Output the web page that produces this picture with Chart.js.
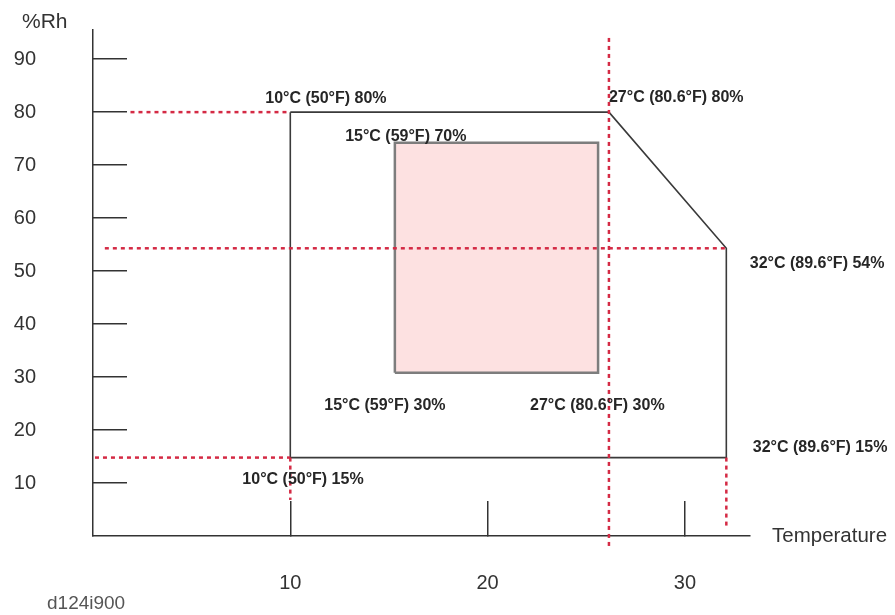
<!DOCTYPE html>
<html>
<head>
<meta charset="utf-8">
<script src="https://cdn.jsdelivr.net/npm/chart.js@4/dist/chart.umd.min.js"></script>
<style>
  body { margin: 0; background: #fff; }
  #wrap { width: 895px; height: 615px; }
</style>
</head>
<body>
<div id="wrap"><canvas id="myChart" width="895" height="615"></canvas></div>
<script>
// tick labels
const xTicks = [10, 20, 30];
const yTicks = [10, 20, 30, 40, 50, 60, 70, 80, 90];

// operating envelope, values as drawn on the axes
const envelopeTemp = [10, 26.15, 32.1, 32.1, 10, 10];
const envelopeRh = [80, 80, 54.3, 14.8, 14.8, 80];

// recommended range (pink box)
const recTemp = [15.3, 25.6, 25.6, 15.3, 15.3];
const recRh = [30.8, 30.8, 74.2, 74.2, 30.8];

// red dotted guide lines: start/end temp and rh
const guideTemp = [[1.9, 10], [0.6, 32.1], [0.1, 10], [26.15, 26.15], [10, 10], [32.1, 32.1]];
const guideRh = [[80, 80], [54.3, 54.3], [14.8, 14.8], [94, -2], [14.8, 6.8], [14.8, 1.5]];

// corner notes, anchored at temp / rh
const noteText = [
    '10°C (50°F) 80%', '27°C (80.6°F) 80%', '15°C (59°F) 70%', '32°C (89.6°F) 54%',
    '15°C (59°F) 30%', '27°C (80.6°F) 30%', '10°C (50°F) 15%', '32°C (89.6°F) 15%'
];
const noteTemp = [8.73, 26.15, 12.78, 33.29, 11.72, 22.15, 7.57, 33.44];
const noteRh = [82.6, 82.8, 75.3, 51.5, 24.7, 24.7, 10.6, 16.6];

function pts(xs, ys) {
    return xs.map(function (x, i) { return {x: x, y: ys[i]}; });
}

const datasets = [];

// pink fill of the recommended box
datasets.push({
    data: pts([recTemp[0], recTemp[1]], [recRh[2], recRh[2]]),
    borderWidth: 0,
    backgroundColor: '#fde1e1',
    fill: {value: recRh[0]},
    order: 10
});
datasets.push({
    data: pts(recTemp, recRh),
    borderColor: '#7d7d7d',
    borderWidth: 2.5,
    fill: false,
    order: 9
});
datasets.push({
    data: pts(envelopeTemp, envelopeRh),
    borderColor: '#3a3a3a',
    borderWidth: 1.6,
    fill: false,
    order: 8
});
guideTemp.forEach(function (t, i) {
    datasets.push({
        data: pts(t, guideRh[i]),
        borderColor: '#d42a44',
        borderWidth: 2.5,
        borderDash: [4, 4],
        fill: false,
        clip: false,
        order: 1
    });
});

const labelsPlugin = {
    id: 'labelsPlugin',
    afterDraw: function (chart) {
        const ctx = chart.ctx;
        const xs = chart.scales.x;
        const ys = chart.scales.y;
        ctx.save();
        ctx.textBaseline = 'middle';
        ctx.textAlign = 'left';
        ctx.fillStyle = '#262626';
        ctx.font = 'bold 16px "Liberation Sans", Arial, sans-serif';
        noteText.forEach(function (t, i) {
            ctx.fillText(t, xs.getPixelForValue(noteTemp[i]), ys.getPixelForValue(noteRh[i]));
        });
        ctx.fillStyle = '#333';
        ctx.font = '21px "Liberation Sans", Arial, sans-serif';
        ctx.fillText('%Rh', 22, 22);
        ctx.font = '20.5px "Liberation Sans", Arial, sans-serif';
        ctx.fillText('Temperature', 772, 536);
        ctx.fillStyle = '#555';
        ctx.font = '19px "Liberation Sans", Arial, sans-serif';
        ctx.fillText('d124i900', 47, 604);
        ctx.restore();
    }
};

function noPad(scale) {
    scale.paddingTop = 0;
    scale.paddingBottom = 0;
    scale.paddingLeft = 0;
    scale.paddingRight = 0;
}

const config = {
    type: 'line',
    data: {datasets: datasets},
    options: {
        responsive: false,
        animation: false,
        layout: {padding: {left: 0, right: 145, top: 30, bottom: 0}},
        elements: {point: {radius: 0}, line: {tension: 0}},
        plugins: {legend: {display: false}, tooltip: {enabled: false}},
        scales: {
            x: {
                type: 'linear',
                min: 0,
                max: 33.3,
                afterFit: function (scale) { scale.height = 79; noPad(scale); },
                afterBuildTicks: function (scale) {
                    scale.ticks = xTicks.map(function (v) { return {value: v}; });
                },
                border: {display: true, color: '#333', width: 1.5},
                grid: {drawOnChartArea: false, drawTicks: true, tickLength: -35, color: '#333', lineWidth: 1.5},
                ticks: {
                    padding: 70,
                    color: '#333',
                    maxRotation: 0,
                    font: {family: '"Liberation Sans", Arial, sans-serif', size: 20}
                }
            },
            y: {
                type: 'linear',
                min: 0,
                max: 95.5,
                afterFit: function (scale) { scale.width = 93; noPad(scale); },
                afterBuildTicks: function (scale) {
                    scale.ticks = yTicks.map(function (v) { return {value: v}; });
                },
                border: {display: true, color: '#333', width: 1.5},
                grid: {drawOnChartArea: false, drawTicks: true, tickLength: -34, color: '#333', lineWidth: 1.5},
                ticks: {
                    padding: 91,
                    color: '#333',
                    font: {family: '"Liberation Sans", Arial, sans-serif', size: 20}
                }
            }
        }
    },
    plugins: [labelsPlugin]
};

const myChart = new Chart(document.getElementById('myChart'), config);
</script>
</body>
</html>
